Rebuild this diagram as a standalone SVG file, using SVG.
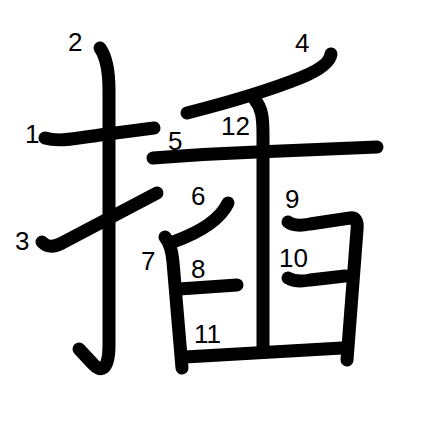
<svg xmlns="http://www.w3.org/2000/svg" width="447" height="447" viewBox="0 0 447 447">
<style>
.s{fill:none;stroke:#000;stroke-width:13;stroke-linecap:round;stroke-linejoin:round}
.n{font-family:"Liberation Sans",Arial,sans-serif;font-size:26px;fill:#000}
</style>
<rect width="447" height="447" fill="#fff"/>
<g id="connectors"></g>
<g id="stroke1"><path class="s" d="M45,138 C58,142 72,139 100,135 L154,128"/><text class="n" x="25" y="143">1</text></g>
<g id="stroke2"><path class="s" d="M100,48 C107,58 109,72 109,90 L109,345 C109,372 100,372 93,364 L79,349"/><text class="n" x="68" y="51">2</text></g>
<g id="stroke3"><path class="s" d="M42,242 C47,247 53,248 62,243 L157,193"/><text class="n" x="15" y="250">3</text></g>
<g id="stroke4"><path class="s" d="M331,54 C330,62 320,70 300,78 C270,90 230,102 187,113"/><text class="n" x="295" y="52">4</text></g>
<g id="stroke5"><path class="s" d="M153,158 C190,155 230,153 257,152 L377,147"/><text class="n" x="168" y="150">5</text></g>
<g id="stroke6"><path class="s" d="M228,203 C220,220 198,233 173,242"/><text class="n" x="191" y="205">6</text></g>
<g id="stroke7"><path class="s" d="M165,237 C170,243 172,250 173,262 L182,368"/><text class="n" x="141" y="270">7</text></g>
<g id="stroke8"><path class="s" d="M179,289 L237,285"/><text class="n" x="191" y="278">8</text></g>
<g id="stroke9"><path class="s" d="M288,222 C293,226 300,226 310,224 L350,218 C356,217 358,222 357,230 L347,360"/><text class="n" x="285" y="208">9</text></g>
<g id="stroke10"><path class="s" d="M288,278 C293,281 300,282 310,280 L345,276"/><text class="n" x="279" y="267">10</text></g>
<g id="stroke11"><path class="s" d="M185,357 L342,348"/><text class="n" x="194" y="343">11</text></g>
<g id="stroke12"><path class="s" d="M255,100 C262,108 263,118 263,135 L263,347"/><text class="n" x="221" y="135">12</text></g>
</svg>
